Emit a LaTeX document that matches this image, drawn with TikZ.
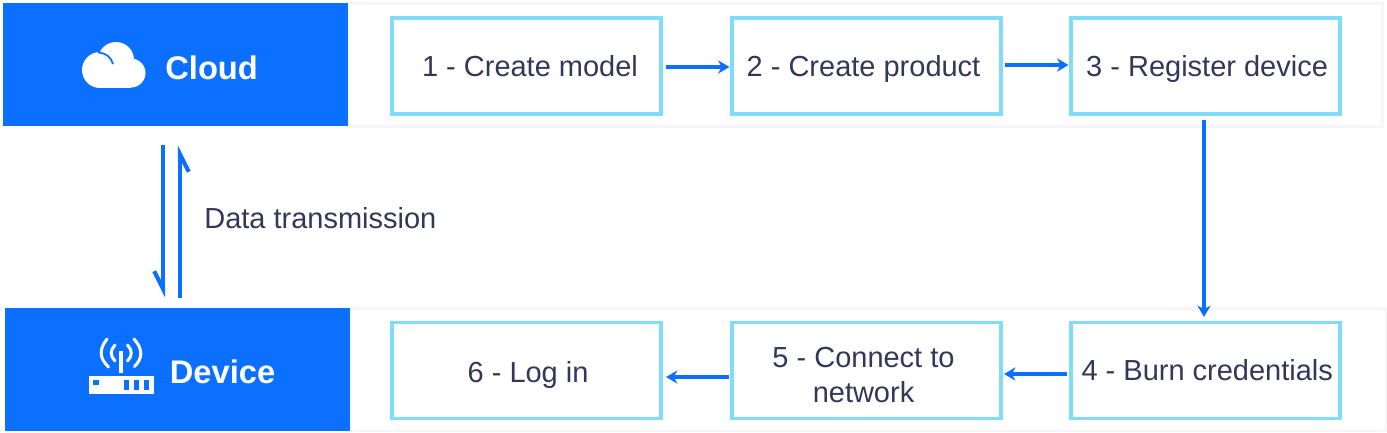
\documentclass[tikz,border=0pt]{standalone}
\usepackage{fontspec}
\setmainfont{Liberation Sans}
\usepackage{xcolor}
\usetikzlibrary{arrows.meta, calc}
\definecolor{bandblue}{HTML}{0B70FF}
\definecolor{stepedge}{HTML}{7FDDFB}
\definecolor{paneledge}{HTML}{F5F5FB}
\definecolor{inktext}{HTML}{33385A}

\begin{document}
\begin{tikzpicture}[x=0.02cm, y=-0.02cm,
    stepbox/.style={draw=stepedge, line width=1.75pt, fill=white, minimum width=5.38cm,
      minimum height=1.92cm, inner sep=0pt, align=center, text=inktext,
      text height=11.8pt, text depth=0pt,
      font=\fontsize{16.5}{19.85}\selectfont},
    band/.style={fill=bandblue, minimum width=6.9cm, minimum height=2.46cm, inner sep=0pt},
    panel/.style={draw=paneledge, line width=1.7pt, fill=white, minimum height=2.46cm, inner sep=0pt},
    bandlabel/.style={text=white, font=\fontsize{18.6}{20}\selectfont\bfseries, inner sep=0pt, anchor=west},
    flow/.style={draw=bandblue, line width=1.75pt, -{Stealth[length=6.5pt,width=7.5pt]}},
    linkline/.style={draw=bandblue, line width=2.2pt, -{Straight Barb[right,length=10pt,width=10pt,line width=2.4pt]}},
  ]
  \useasboundingbox (0,0) rectangle (1387,433);
  % Cloud row: panel, band and steps 1 to 3
  \node[panel, minimum width=20.7cm] (toppanel) at (865.5,65) {};
  \node[band] (cloudband) at (175.5,64.5) {};
  \node[stepbox] (model) at (526.5,66) {\hspace*{4pt}1 - Create model};
  \node[stepbox] (product) at (866.5,66) {2 - Create product\hspace*{3.4pt}};
  \node[stepbox] (register) at (1205.5,66) {\hspace*{1.8pt}3 - Register device};
  % Device row: panel, band and steps 4 to 6
  \node[panel, minimum width=20.74cm] (botpanel) at (868.5,369.5) {};
  \node[band] (deviceband) at (177.5,369.5) {};
  \node[stepbox] (burn) at (1205.5,370.5) {\hspace*{2pt}4 - Burn credentials};
  \node[stepbox, text height=36.2pt] (connect) at (866.5,370.5) {5 - Connect to\hspace*{3.4pt}\\network\hspace*{3.4pt}};
  \node[stepbox, text height=13.5pt] (login) at (526.5,370.5) {\hspace*{1.8pt}6 - Log in};
  % Cloud icon
  \fill[white] (100,70) circle (18);
  \fill[white] (116,60) circle (18);
  \fill[white] (131,73) circle (14.5);
  \fill[white] (100,70) rectangle (131,87.5);
  \draw[bandblue, line width=1pt] (98,52.5) .. controls (106,53) and (111,57) .. (113,64);
  \node[bandlabel] (cloudlabel) at (165,67.5) {Cloud};
  % Device icon
  \fill[white] (89,376) rectangle (153.5,394);
  \fill[bandblue] (93,380) rectangle (99,385);
  \foreach \slotx in {124,134,144}
    \fill[bandblue] (\slotx,380) rectangle (\slotx+5,390);
  \draw[white, line width=2.6pt] (121,351) -- (121,372.5);
  \draw[white, line width=1.7pt, line cap=round]
    (107,339) .. controls (99,349) and (99,358) .. (108.5,367)
    (134,339) .. controls (143,349) and (143,358) .. (134.5,366.5)
    (115,345) .. controls (110,350) and (110,356) .. (115,361)
    (127.5,345) .. controls (132.5,350) and (132.5,356) .. (127.5,361);
  \node[bandlabel] (devicelabel) at (169.5,372) {Device};
  % Flow between the steps
  \draw[flow] ($(model.east)+(3.5,1)$) -- ($(product.west)+(-1,1)$);
  \draw[flow] ($(product.east)+(2,-1)$) -- ($(register.west)+(-1,-1)$);
  \draw[flow] ($(register.south)+(-1.5,4.5)$) -- ($(burn.north)+(-1.5,-4)$);
  \draw[flow] ($(burn.west)+(-2.5,3.5)$) -- ($(connect.east)+(1.5,3.5)$);
  \draw[flow] ($(connect.west)+(-1.5,6.5)$) -- ($(login.east)+(3.5,6.5)$);
  % Data links between cloud and device
  \coordinate (downstart) at ($(cloudband.south)+(-12.5,19)$);
  \coordinate (downend) at ($(deviceband.north)+(-14.5,-10)$);
  \coordinate (upstart) at ($(deviceband.north)+(2.5,-10)$);
  \coordinate (upend) at ($(cloudband.south)+(4.5,19)$);
  \draw[linkline] (downstart) -- (downend);
  \draw[linkline] (upstart) -- (upend);
  \node[text=inktext, font=\fontsize{16.5}{20}\selectfont, inner sep=0pt, anchor=west] (linklabel) at (204,218) {Data transmission};
\end{tikzpicture}
\end{document}
